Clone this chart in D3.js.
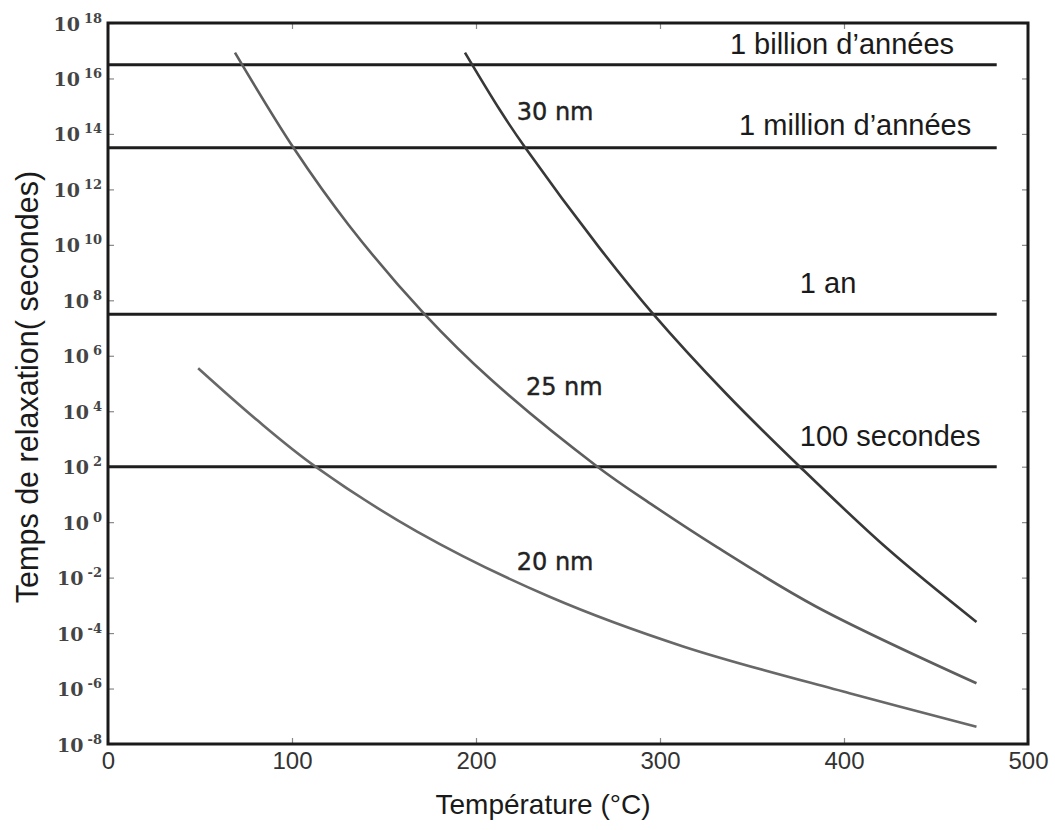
<!DOCTYPE html>
<html>
<head>
<meta charset="utf-8">
<script src="https://cdn.jsdelivr.net/npm/d3@7"></script>
<style>
  body { margin: 0; background: #fff; }
  svg { display: block; }
</style>
</head>
<body>
<svg id="chart"></svg>
<script>
// values (temperature in °C, relaxation time as log10 of seconds)
const temps30 = [194, 213, 227, 267, 296, 336, 376, 424, 472];
const logTau30 = [16.93, 14.86, 13.48, 9.9, 7.53, 4.63, 2.0, -0.98, -3.6];
const temps25 = [69, 101, 131, 172, 208, 266, 295, 331, 385, 472];
const logTau25 = [16.93, 13.48, 10.7, 7.5, 5.15, 2.0, 0.66, -0.9, -3.05, -5.81];
const temps20 = [49, 81, 112, 168, 240, 313, 403, 472];
const logTau20 = [5.55, 3.68, 2.04, -0.34, -2.69, -4.49, -6.17, -7.38];

const seriesNames = ["30 nm", "25 nm", "20 nm"];

// reference durations in seconds
const refNames = ["1 billion d\u2019années", "1 million d\u2019années", "1 an", "100 secondes"];
const refSeconds = [3.15e16, 3.15e13, 3.15e7, 100];
const refEndTemp = 483;

const xTicks = [0, 100, 200, 300, 400, 500];
const yExponents = [18, 16, 14, 12, 10, 8, 6, 4, 2, 0, -2, -4, -6, -8];

const layout = {
  width: 1055,
  height: 830,
  margin: { left: 108, right: 27, top: 23, bottom: 86 },
};

function main() {
  const { width, height, margin } = layout;
  const innerWidth = width - margin.left - margin.right;
  const innerHeight = height - margin.top - margin.bottom;

  const svg = d3.select("#chart").attr("width", width).attr("height", height);
  const plot = svg.append("g").attr("transform", `translate(${margin.left}, ${margin.top})`);

  const x = d3.scaleLinear().domain([0, 500]).range([0, innerWidth]);
  const y = d3.scaleLog().domain([1e-8, 1e18]).range([innerHeight, 0]);

  // inward ticks on all four sides
  const xAxis = plot.append("g")
    .attr("transform", `translate(0, ${innerHeight})`)
    .call(d3.axisBottom(x).tickValues(xTicks).tickSize(-6).tickPadding(8).tickFormat(d3.format("d")));
  xAxis.selectAll("text")
    .attr("font-family", "Liberation Sans, Arial, sans-serif")
    .attr("font-size", 24)
    .attr("fill", "#333");

  plot.append("g")
    .call(d3.axisTop(x).tickValues(xTicks).tickSize(-6).tickFormat(""));

  const yAxis = plot.append("g")
    .call(d3.axisLeft(y).tickValues(yExponents.map((e) => Math.pow(10, e))).tickSize(-6).tickPadding(6));
  yAxis.selectAll(".tick text")
    .text(null)
    .attr("dy", null)
    .attr("font-family", "DejaVu Serif, serif")
    .attr("font-weight", "bold")
    .attr("fill", "#444")
    .each(function (d) {
      const t = d3.select(this);
      t.append("tspan").attr("font-size", 19).attr("dy", 7).text("10");
      t.append("tspan")
        .attr("font-size", 13)
        .attr("dx", 4)
        .attr("dy", -8)
        .text(Math.round(Math.log10(d)));
    });

  plot.append("g")
    .attr("transform", `translate(${innerWidth}, 0)`)
    .call(d3.axisRight(y).tickValues(yExponents.map((e) => Math.pow(10, e))).tickSize(-6).tickFormat(""));

  plot.selectAll(".domain").remove();
  plot.selectAll(".tick line").attr("stroke", "#888").attr("stroke-width", 1.2);

  // reference lines
  plot.selectAll("line.ref")
    .data(refSeconds)
    .join("line")
    .attr("class", "ref")
    .attr("x1", x(0))
    .attr("x2", x(refEndTemp))
    .attr("y1", (d) => y(d))
    .attr("y2", (d) => y(d))
    .attr("stroke", "#1e1e1e")
    .attr("stroke-width", 3);

  const refLabelTemp = [338, 343, 376, 376];
  const refLabelLift = [11, 13, 21, 21];
  plot.selectAll("text.ref-label")
    .data(refNames)
    .join("text")
    .attr("class", "ref-label")
    .attr("x", (d, i) => x(refLabelTemp[i]))
    .attr("y", (d, i) => y(refSeconds[i]) - refLabelLift[i])
    .attr("font-family", "Liberation Sans, Arial, sans-serif")
    .attr("font-size", 29)
    .attr("fill", "#1a1a1a")
    .text((d) => d);

  // curves
  const series = [
    { name: seriesNames[0], temps: temps30, logs: logTau30, color: "#383838" },
    { name: seriesNames[1], temps: temps25, logs: logTau25, color: "#5e5e5e" },
    { name: seriesNames[2], temps: temps20, logs: logTau20, color: "#686868" },
  ];
  const line = d3.line()
    .x((d) => x(d[0]))
    .y((d) => y(Math.pow(10, d[1])))
    .curve(d3.curveCatmullRom.alpha(0.5));

  plot.selectAll("path.curve")
    .data(series)
    .join("path")
    .attr("class", "curve")
    .attr("d", (s) => line(s.temps.map((t, i) => [t, s.logs[i]])))
    .attr("fill", "none")
    .attr("stroke", (s) => s.color)
    .attr("stroke-width", 2.6);

  // curve labels
  const labelTemp = [243, 248, 243];
  const labelLog = [14.83, 4.91, -1.4];
  plot.selectAll("text.curve-label")
    .data(series)
    .join("text")
    .attr("class", "curve-label")
    .attr("x", (s, i) => x(labelTemp[i]))
    .attr("y", (s, i) => y(Math.pow(10, labelLog[i])))
    .attr("dy", "0.36em")
    .attr("text-anchor", "middle")
    .attr("font-family", "DejaVu Sans, sans-serif")
    .attr("font-size", 24)
    .attr("fill", "#222")
    .attr("stroke", "#222")
    .attr("stroke-width", 0.4)
    .text((s) => s.name);

  // frame
  plot.append("rect")
    .attr("width", innerWidth)
    .attr("height", innerHeight)
    .attr("fill", "none")
    .attr("stroke", "#1a1a1a")
    .attr("stroke-width", 3);

  // axis titles
  svg.append("text")
    .attr("x", 543)
    .attr("y", 814)
    .attr("text-anchor", "middle")
    .attr("font-family", "Liberation Sans, Arial, sans-serif")
    .attr("font-size", 28)
    .attr("fill", "#1a1a1a")
    .text("Température (°C)");

  svg.append("text")
    .attr("transform", `translate(38, ${margin.top + 364}) rotate(-90)`)
    .attr("text-anchor", "middle")
    .attr("font-family", "Liberation Sans, Arial, sans-serif")
    .attr("font-size", 30.5)
    .attr("fill", "#1a1a1a")
    .text("Temps de relaxation( secondes)");
}

main();
</script>
</body>
</html>
